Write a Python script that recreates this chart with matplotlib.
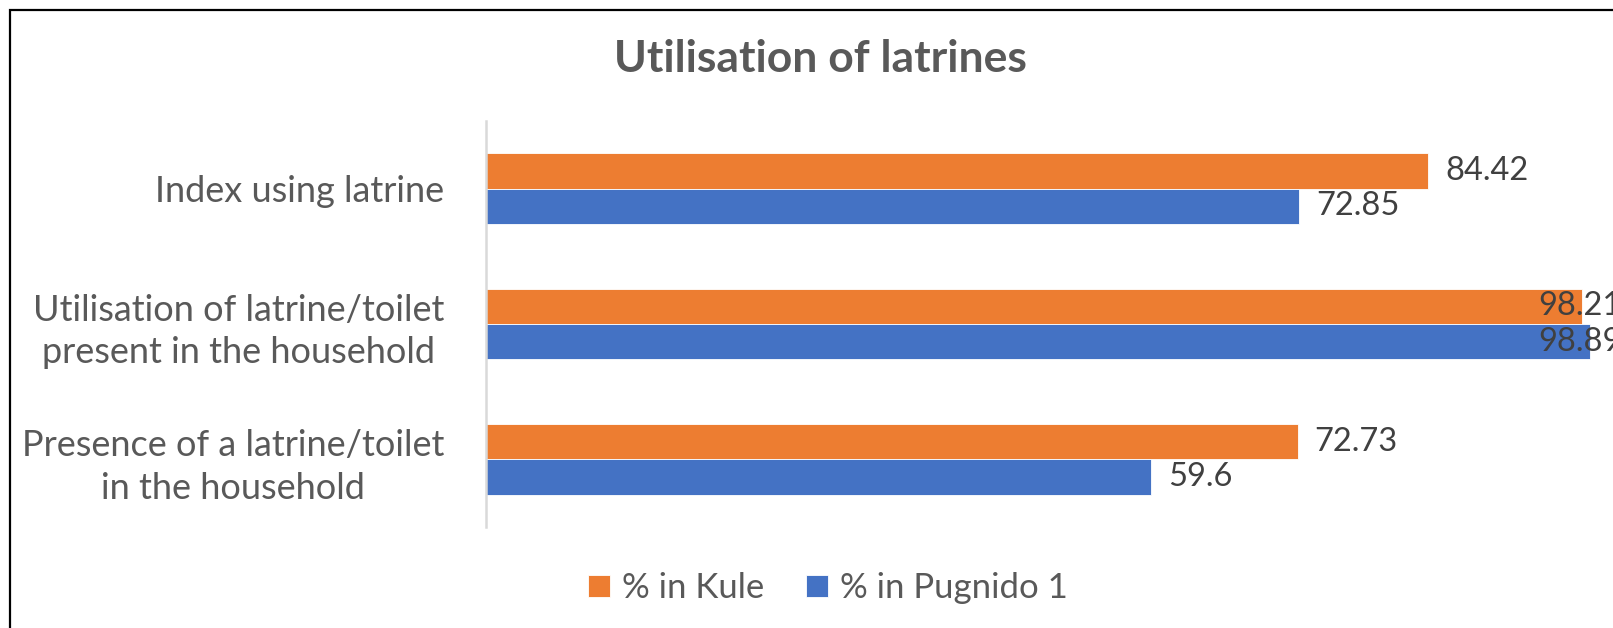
import matplotlib.pyplot as plt
import numpy as np
from matplotlib.patches import Rectangle

# Chart data
categories = ['Presence of a latrine/toilet\nin the household',
              'Utilisation of latrine/toilet\npresent in the household',
              'Index using latrine']
kule = [72.73, 98.21, 84.42]
pugnido = [59.6, 98.89, 72.85]
kule_labels = ['72.73', '98.21', '84.42']
pugnido_labels = ['59.6', '98.89', '72.85']
series_names = ['% in Kule', '% in Pugnido 1']

ORANGE = '#ED7D31'
BLUE = '#4472C4'
TEXT = '#595959'
VALUE_TEXT = '#404040'

plt.rcParams['font.family'] = ['Lato', 'DejaVu Sans']

W, H = 1613, 628
fig = plt.figure(figsize=(W / 100, H / 100), dpi=100)
fig.patch.set_facecolor('white')

# Plot area placed to match the reference
ax = fig.add_axes([485.7 / W, 1 - 527 / H, 1116.7 / W, 406 / H])

y = np.arange(len(categories))
h = 0.262
bars_k = ax.barh(y + h / 2, kule, height=h, color=ORANGE, edgecolor='white',
                 linewidth=0.6, label=series_names[0])
bars_p = ax.barh(y - h / 2, pugnido, height=h, color=BLUE, edgecolor='white',
                 linewidth=0.6, label=series_names[1])

ax.set_xlim(0, 100)
ax.set_ylim(-0.5, len(categories) - 0.5)

# Value labels (labels too close to the edge get pulled back, as in the original)
def add_labels(ypos, values, texts):
    for yy, v, t in zip(ypos, values, texts):
        if v > 93:
            ax.annotate(t, xy=(100, yy), xytext=(14, 0), textcoords='offset points',
                        ha='right', va='center', fontsize=23.5, color=VALUE_TEXT,
                        annotation_clip=False)
        else:
            ax.annotate(t, xy=(v, yy), xytext=(12, 0), textcoords='offset points',
                        ha='left', va='center', fontsize=23.5, color=VALUE_TEXT,
                        annotation_clip=False)

add_labels(y + h / 2, kule, kule_labels)
add_labels(y - h / 2, pugnido, pugnido_labels)

# Axis styling
ax.set_yticks(y)
ax.set_yticklabels(categories, fontsize=26, color=TEXT, linespacing=1.35,
                   multialignment='center')
ax.tick_params(axis='y', length=0, pad=30)
ax.set_xticks([])
for side in ['top', 'right', 'bottom']:
    ax.spines[side].set_visible(False)
ax.spines['left'].set_color('#D9D9D9')
ax.spines['left'].set_linewidth(1.8)

# Title
fig.text(820 / W, 1 - 59 / H, 'Utilisation of latrines', ha='center', va='center',
         fontsize=32, fontweight='bold', color=TEXT)

# Legend
fig.legend(handles=[bars_k, bars_p], labels=series_names, loc='center',
           bbox_to_anchor=(828 / W, 1 - 588 / H), ncol=2, frameon=False,
           fontsize=25, labelcolor=TEXT, handlelength=0.62, handleheight=0.62,
           handletextpad=0.35, columnspacing=1.2)

# Chart border (cropped at the right and bottom)
fig.add_artist(Rectangle((10 / W, -0.1), 1.2, 1 - 10 / H + 0.1,
                         transform=fig.transFigure, fill=False,
                         edgecolor='black', linewidth=1.6))

fig.savefig('out.png', dpi=100)
